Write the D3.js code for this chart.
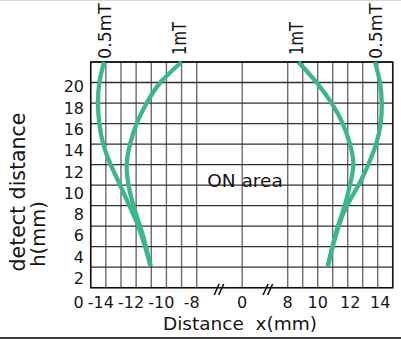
<!DOCTYPE html>
<html><head><meta charset="utf-8">
<script src="https://cdn.jsdelivr.net/npm/d3@7"></script>
<style>
body{margin:0;background:#fff;}
svg{display:block;}
text{font-family:"DejaVu Sans",sans-serif;fill:#161616;}
</style>
</head><body>
<svg id="c" width="401" height="339"></svg>
<script>
// ---- data ----
const heights = [22, 20, 18, 16, 14, 12, 10, 8, 6, 4, 2.1];
const left05  = [-14.12, -14.43, -14.52, -14.43, -14.17, -13.68, -13.06, -12.45, -11.86, -11.41, -11.04];
const left1   = [-9.0, -10.4, -11.3, -11.96, -12.4, -12.62, -12.5, -12.18, -11.74, -11.35, -11.04];
const right1  = [8.71, 9.93, 10.93, 11.67, 12.15, 12.38, 12.15, 11.8, 11.35, 10.98, 10.67];
const right05 = [13.82, 14.15, 14.27, 14.2, 13.89, 13.37, 12.72, 11.95, 11.4, 11.0, 10.67];
const seriesNames = ["0.5mT", "1mT", "1mT", "0.5mT"];
const xTickValues = [-14, -12, -10, -8, 0, 8, 10, 12, 14];
const xTickLabels = ["-14", "-12", "-10", "-8", "0", "8", "10", "12", "14"];
const yTickValues = [2, 4, 6, 8, 10, 12, 14, 16, 18, 20];
const xGridValues = [-15, -14, -13, -12, -11, -10, -9, -8, 0, 8, 9, 10, 11, 12, 13, 14, 15];
const yGridValues = [0, 2, 4, 6, 8, 10, 12, 14, 16, 18, 20, 22];
const breakValues = [-4.1, 4.5];
const xTitle = "Distance  x(mm)";
const yTitle1 = "detect distance";
const yTitle2 = "h(mm)";
const areaLabel = "ON area";
const originLabel = "0";

// ---- scales ----
const svg = d3.select("#c");
const x = d3.scaleLinear().domain([-15, -8, 0, 8, 15]).range([90.7, 196.7, 242.2, 287.7, 392.7]);
const y = d3.scaleLinear().domain([0, 22]).range([287.7, 62]);
const yLab = d3.scaleLinear().domain([2, 20]).range([278.3, 86.5]);

svg.append("rect").attr("width", 401).attr("height", 339).attr("fill", "#fff");
svg.append("rect").attr("x", 0).attr("y", 0).attr("width", 401).attr("height", 1).attr("fill", "#d9d9d9");
svg.append("rect").attr("x", 0).attr("y", 337).attr("width", 401).attr("height", 2).attr("fill", "#3a3a3a");

// grid
const g = svg.append("g");
g.selectAll("line.v").data(xGridValues).join("line")
  .attr("x1", d => x(d)).attr("x2", d => x(d))
  .attr("y1", y(22)).attr("y2", y(0))
  .attr("stroke", "#6e6a6a").attr("stroke-width", 1.4);
g.selectAll("line.h").data(yGridValues).join("line")
  .attr("x1", x(-15)).attr("x2", x(15))
  .attr("y1", d => y(d)).attr("y2", d => y(d))
  .attr("stroke", "#342e2e").attr("stroke-width", 1.3);
// frame
g.append("rect").attr("x", x(-15)).attr("y", y(22))
  .attr("width", x(15) - x(-15)).attr("height", y(0) - y(22))
  .attr("fill", "none").attr("stroke", "#111").attr("stroke-width", 1.5);

// break marks
breakValues.forEach(b => {
  const cx = x(b);
  [0, 4.5].forEach(off => {
    svg.append("line")
      .attr("x1", cx - 4.7 + off).attr("y1", 295)
      .attr("x2", cx + 0.3 + off).attr("y2", 284)
      .attr("stroke", "#111").attr("stroke-width", 1.6);
  });
});

// curves
const series = [left05, left1, right1, right05];
const line = d3.line().x(d => x(d[0])).y(d => y(d[1])).curve(d3.curveNatural);
series.forEach((s, i) => {
  const pts = s.map((v, k) => [v, heights[k]]);
  svg.append("path").attr("d", line(pts))
    .attr("fill", "none").attr("stroke", "#3bb68f").attr("stroke-width", 4.3)
    .attr("stroke-linecap", "butt");
  const name = seriesNames[i];
  const is05 = name === "0.5mT";
  const bx = x(s[0]) + (is05 ? 7 : 4.5);
  const t = svg.append("text")
    .attr("transform", `translate(${bx},${is05 ? 59 : 55}) rotate(-90)`)
    .attr("font-family", "Liberation Sans, Arial, sans-serif")
    .attr("font-size", is05 ? 17.5 : 19)
    .text(name);
  if (!is05) t.attr("textLength", 33).attr("lengthAdjust", "spacingAndGlyphs");
});

// y tick labels
svg.selectAll("text.yt").data(yTickValues).join("text")
  .attr("x", 84).attr("y", d => yLab(d)).attr("dy", "0.36em")
  .attr("text-anchor", "end").attr("font-size", 16)
  .text(d => d);

// x tick labels
svg.selectAll("text.xt").data(xTickValues).join("text")
  .attr("x", (d, i) => x(d) + (d < 0 ? -5 : (d > 10 ? 2.5 : 0)))
  .attr("y", 307.5)
  .attr("text-anchor", "middle").attr("font-size", 16)
  .text((d, i) => xTickLabels[i]);
svg.append("text").attr("x", x(-15) - 12).attr("y", 307.5)
  .attr("text-anchor", "middle").attr("font-size", 16).text(originLabel);

// titles
svg.append("text").attr("x", 240).attr("y", 329.5)
  .attr("text-anchor", "middle").attr("font-size", 18.5)
  .style("white-space", "pre").text(xTitle);
svg.append("text").attr("transform", "translate(25,192) rotate(-90)")
  .attr("text-anchor", "middle").attr("font-size", 20.5).text(yTitle1);
svg.append("text").attr("transform", "translate(45,234) rotate(-90)")
  .attr("text-anchor", "middle").attr("font-size", 19.5).text(yTitle2);

// annotation
svg.append("text").attr("x", x(0) - 35).attr("y", 186.5)
  .attr("font-size", 18.5).text(areaLabel);
</script>
</body></html>
